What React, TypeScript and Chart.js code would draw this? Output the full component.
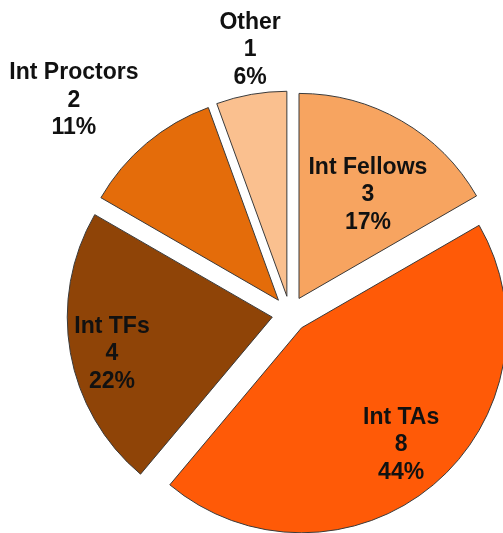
import React, { useEffect, useRef } from "react";
import { Chart, registerables } from "chart.js";

Chart.register(...registerables);

const categories = ["Int Fellows", "Int TAs", "Int TFs", "Int Proctors", "Other"];
const counts = [3, 8, 4, 2, 1];
const percentLabels = ["17%", "44%", "22%", "11%", "6%"];
const sliceColors = ["#F7A460", "#FF5A07", "#8F4407", "#E46C0A", "#FAC08F"];

const PIE_RADIUS = 205;
const EXPLODE = 18; // pixels each slice is pulled out

// label anchor placement (polar, relative to pie centre): angle in degrees clockwise from top, distance as fraction of radius
const labelPlacement = [
  { angle: 33.2, dist: 0.694 },
  { angle: 139.7, dist: 0.838 },
  { angle: 257.3, dist: 0.89 },
  { angle: 314.7, dist: 1.483 },
  { angle: 351.4, dist: 1.302 },
];

// Chart.js enlarges exploded arcs depending on their size; undo that so every slice keeps the same radius
const equalRadiusPlugin = {
  id: "equalRadius",
  beforeDatasetsDraw(chart: any) {
    const meta = chart.getDatasetMeta(0);
    meta.data.forEach((arc: any) => {
      const circ = arc.circumference;
      const fix = 1 - Math.sin(Math.min(Math.PI, circ || 0));
      const radiusOffset = EXPLODE * fix;
      arc.outerRadius = PIE_RADIUS - radiusOffset;
      const angleOffset = radiusOffset / Math.PI / PIE_RADIUS / 2;
      arc.startAngle = arc.startAngle - angleOffset;
      arc.endAngle = arc.endAngle + angleOffset;
    });
  },
};

const labelPlugin = {
  id: "sliceLabels",
  afterDatasetsDraw(chart: any) {
    const meta = chart.getDatasetMeta(0);
    const ctx = chart.ctx;
    ctx.save();
    ctx.font = "bold 23px 'Liberation Sans', Arial, sans-serif";
    ctx.fillStyle = "#111111";
    ctx.textAlign = "center";
    ctx.textBaseline = "middle";
    meta.data.forEach((arc: any, i: number) => {
      const p = labelPlacement[i];
      const a = (p.angle * Math.PI) / 180;
      const r = PIE_RADIUS * p.dist;
      const x = arc.x + Math.sin(a) * r;
      const y = arc.y - Math.cos(a) * r;
      const lines = [categories[i], String(counts[i]), percentLabels[i]];
      const lh = 27.5;
      lines.forEach((t, j) => {
        ctx.fillText(t, x, y + (j - 1) * lh);
      });
    });
    ctx.restore();
  },
};

export default function App() {
  const ref = useRef<HTMLCanvasElement | null>(null);
  useEffect(() => {
    if (!ref.current) return;
    const chart = new Chart(ref.current, {
      type: "pie",
      data: {
        labels: categories,
        datasets: [
          {
            data: counts,
            backgroundColor: sliceColors,
            borderColor: "#3a3a3a",
            borderWidth: 1,
            offset: EXPLODE * 4,
            radius: PIE_RADIUS,
            clip: false,
          } as any,
        ],
      },
      options: {
        animation: false,
        responsive: false,
        maintainAspectRatio: false,
        layout: { padding: { left: 77, right: 0, top: 95, bottom: 0 } },
        plugins: {
          legend: { display: false },
          tooltip: { enabled: false },
        },
      } as any,
      plugins: [equalRadiusPlugin, labelPlugin],
    });
    return () => chart.destroy();
  }, []);
  return (
    <div style={{ position: "absolute", left: 0, top: 0, width: 503, height: 533, background: "#fff" }}>
      <canvas ref={ref} width={503} height={533} style={{ width: 503, height: 533, display: "block" }} />
    </div>
  );
}
